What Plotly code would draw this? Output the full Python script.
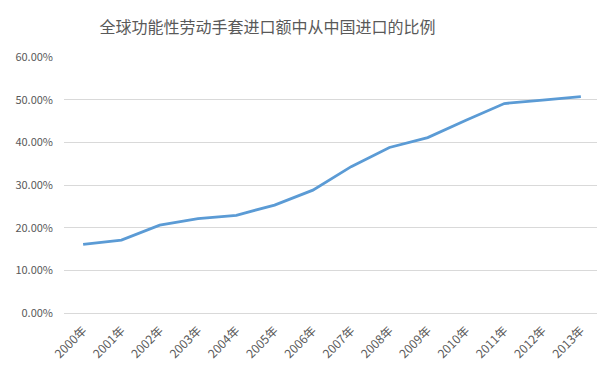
import plotly.graph_objects as go

years = ["2000年", "2001年", "2002年", "2003年", "2004年", "2005年", "2006年",
         "2007年", "2008年", "2009年", "2010年", "2011年", "2012年", "2013年"]
share = [0.161, 0.171, 0.206, 0.221, 0.229, 0.253, 0.288,
         0.343, 0.388, 0.411, 0.452, 0.491, 0.499, 0.507]
y_ticks = [0, 0.1, 0.2, 0.3, 0.4, 0.5, 0.6]

OFF = 8  # page body margin
W, H = 605 - OFF, 371 - OFF
L, R, T, B = 64 - OFF, 5, 57 - OFF, 58

fig = go.Figure()
fig.add_trace(go.Scatter(
    x=years, y=share, mode="lines",
    line=dict(color="#5B9BD5", width=2.8),
    hoverinfo="skip", showlegend=False,
))

fig.update_layout(
    width=W, height=H,
    margin=dict(l=L, r=R, t=T, b=B, autoexpand=False),
    paper_bgcolor="white", plot_bgcolor="white",
    title=dict(text="全球功能性劳动手套进口额中从中国进口的比例",
               x=(267.5 - OFF) / W, xref="container", xanchor="center",
               y=1 - (27 - OFF) / H, yanchor="middle",
               font=dict(family="Noto Sans CJK SC", size=16, color="#595959")),
    font=dict(family="Noto Sans CJK SC", color="#595959", size=11),
    xaxis=dict(type="category", tickangle=-45, showgrid=False, automargin=False,
               showline=True, linecolor="#D9D9D9", linewidth=1,
               ticks="", tickfont=dict(size=12, color="#595959"),
               ticklabelstandoff=5,
               range=[-0.5, len(years) - 0.5]),
    yaxis=dict(range=[0, 0.6], tickvals=y_ticks, tickformat=".2%", automargin=False,
               showgrid=True, gridcolor="#D9D9D9", gridwidth=1,
               zeroline=False, showline=False, ticks="",
               ticklabelstandoff=10,
               tickfont=dict(size=11, color="#595959")),
)

fig.write_html("out.html")
